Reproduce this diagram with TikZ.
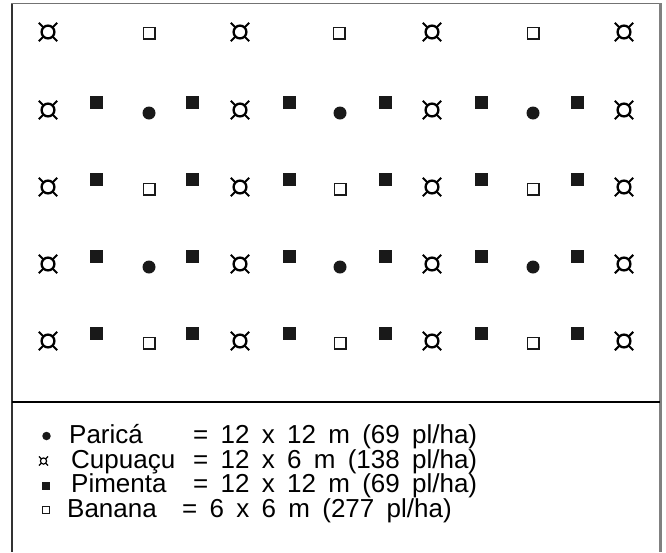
\documentclass[tikz,border=0pt]{standalone}
\usepackage{fontspec}
\setmainfont{Liberation Sans}
\newfontfamily\legfont[WordSpace=1.7]{Liberation Sans}
\begin{document}
\begin{tikzpicture}[x=1pt,y=-1pt,
  cupu/.pic={\draw[line width=2.3pt] (0,0) circle (6.4);
    \foreach \a in {45,135,225,315} \draw[line width=2.1pt] (\a:7) -- (\a:13);},
  cupusmall/.pic={\draw[line width=1.2pt] (0,0) circle (3.1);
    \foreach \a in {45,135,225,315} \draw[line width=1.1pt] (\a:3.3) -- (\a:6.4);},
  pim/.style={fill=black!90,inner sep=0pt,minimum width=13pt,minimum height=12.5pt,rectangle},
  ban/.style={draw=black!90,line width=1.5pt,fill=white,inner sep=0pt,minimum size=11.5pt,rectangle},
  par/.style={fill=black!90,inner sep=0pt,minimum size=13pt,circle},
  leg/.style={anchor=base west,inner sep=0pt,font=\fontsize{26}{30}\legfont},
  frameg/.style={draw=black!55,line width=1.6pt}]
\useasboundingbox (0,0) rectangle (666,552);
% frame
\draw[draw=black!80,line width=1.6pt] (12,3.5) -- (12,552);
\draw[frameg] (11.2,3.5) -- (660.5,3.5);
\draw[draw=black!50,line width=2.2pt] (660.5,3) -- (660.5,552);
\draw[line width=1.5pt] (12,402) -- (660,402);
% cupuacu
\foreach \r/\y in {1/32,2/110,3/187,4/264,5/341}{
  \foreach \c/\x in {1/48,2/240,3/432,4/624}{
    \pic (cu\r\c) at (\x,\y) {cupu};
  }
}
% banana row 1
\foreach \c/\x in {1/149,2/339,3/533}{
  \node[ban] (b1\c) at (\x,33) {};
}
% rows 2-5
\foreach \r/\y in {2/110,3/187,4/264,5/341}{
  \foreach \c/\x in {1/96,2/192,3/289,4/385,5/481,6/577}{
    \node[pim] (p\r\c) at (\x,\y-7.5) {};
  }
}
\foreach \r/\y in {2/110,4/264}{
  \foreach \c/\x in {1/149,2/340,3/533}{
    \node[par] (pa\r\c) at (\x,\y+3) {};
  }
}
\foreach \r/\y in {3/187,5/341}{
  \foreach \c/\x in {1/149,2/340,3/533}{
    \node[ban] (b\r\c) at (\x,\y+2) {};
  }
}
% legend
\node[fill=black!90,circle,inner sep=0pt,minimum size=8.5pt] (lp) at (46.5,436) {};
\node[leg] (lpn) at (69,443) {Paricá};
\node[leg] (lpv) at (193,443) {= 12 x 12 m (69 pl/ha)};
\pic (lc) at (43.5,461) {cupusmall};
\node[leg] (lcn) at (71,468) {Cupuaçu};
\node[leg] (lcv) at (193,468) {= 12 x 6 m (138 pl/ha)};
\node[fill=black!90,rectangle,inner sep=0pt,minimum size=8pt] (lm) at (46,486) {};
\node[leg] (lmn) at (71,492) {Pimenta};
\node[leg] (lmv) at (193,492) {= 12 x 12 m (69 pl/ha)};
\node[draw=black!90,line width=1pt,rectangle,inner sep=0pt,minimum size=7.5pt] (lb) at (46,510) {};
\node[leg] (lbn) at (67,517) {Banana};
\node[leg] (lbv) at (182,517) {= 6 x 6 m (277 pl/ha)};
\end{tikzpicture}
\end{document}
